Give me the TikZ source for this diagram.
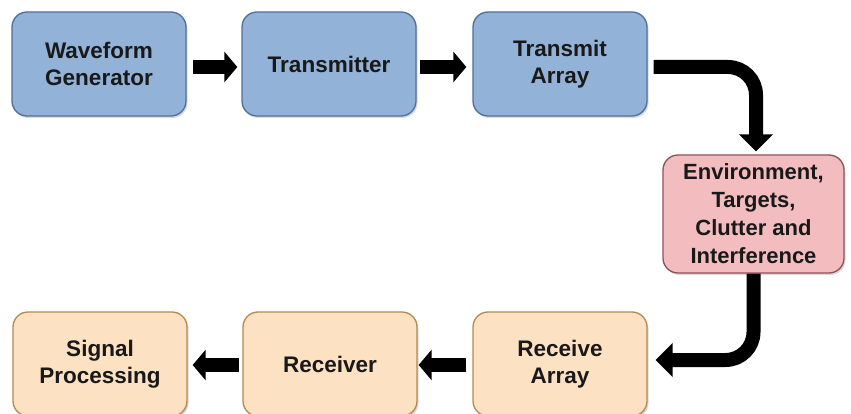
\documentclass[tikz,border=0pt]{standalone}
\usepackage{fontspec}
\setmainfont{Liberation Sans}
\usetikzlibrary{arrows.meta,shadows}
\definecolor{bluefill}{HTML}{93B2D8}
\definecolor{blueline}{HTML}{4F6F9C}
\definecolor{pinkfill}{HTML}{F3BDC0}
\definecolor{pinkline}{HTML}{8E5256}
\definecolor{orangefill}{HTML}{FCE1C2}
\definecolor{orangeline}{HTML}{B48A50}
\tikzset{
  box/.style={rectangle, rounded corners=15pt, line width=1.3pt, align=center,
    font=\bfseries\fontsize{22.5}{27.5}\selectfont, text=black!90,
    minimum width=174pt, minimum height=104pt, inner sep=0pt,
    drop shadow={shadow xshift=1.5pt, shadow yshift=-2pt, opacity=0.3, fill=gray}},
  bluebox/.style={box, fill=bluefill, draw=blueline},
  pinkbox/.style={box, fill=pinkfill, draw=pinkline, minimum width=181pt, minimum height=118pt,
    font=\bfseries\fontsize{22}{28}\selectfont},
  orangebox/.style={box, fill=orangefill, draw=orangeline},
  bigarrow/.style={line width=14pt, -{Triangle[length=13pt,width=30pt]}},
  curvearrow/.style={line width=14pt, rounded corners=28pt, -{Triangle[length=17pt,width=33pt]}}
}
\begin{document}
\begin{tikzpicture}[x=1pt,y=-1pt]
\useasboundingbox (0,0) rectangle (851,414);
\node[bluebox] (wg) at (99,64) {Waveform\\Generator};
\node[bluebox] (tx) at (329,64) {Transmitter};
\node[bluebox] (ta) at (560,64) {Transmit\\Array};
\node[pinkbox] (env) at (753.5,214) {Environment,\\Targets,\\Clutter and\\Interference};
\node[orangebox] (ra) at (560,364) {Receive\\Array};
\node[orangebox] (rx) at (330,364) {Receiver};
\node[orangebox] (sp) at (100,364) {Signal\\Processing};

\draw[bigarrow] ([shift={(6pt,-3pt)}]wg.east) -- ([shift={(-4pt,-3pt)}]tx.west);
\draw[bigarrow] ([shift={(3pt,-3pt)}]tx.east) -- ([shift={(-6pt,-3pt)}]ta.west);
\draw[curvearrow] ([shift={(6pt,-3pt)}]ta.east) -| ([shift={(2.5pt,3pt)}]env.north);
\draw[curvearrow] (env.south) |- ([shift={(8pt,4pt)}]ra.east);
\draw[bigarrow] ([shift={(-6pt,-1pt)}]ra.west) -- ([shift={(1pt,-1pt)}]rx.east);
\draw[bigarrow] ([shift={(-3pt,-1pt)}]rx.west) -- ([shift={(5pt,-1pt)}]sp.east);
\end{tikzpicture}
\end{document}
